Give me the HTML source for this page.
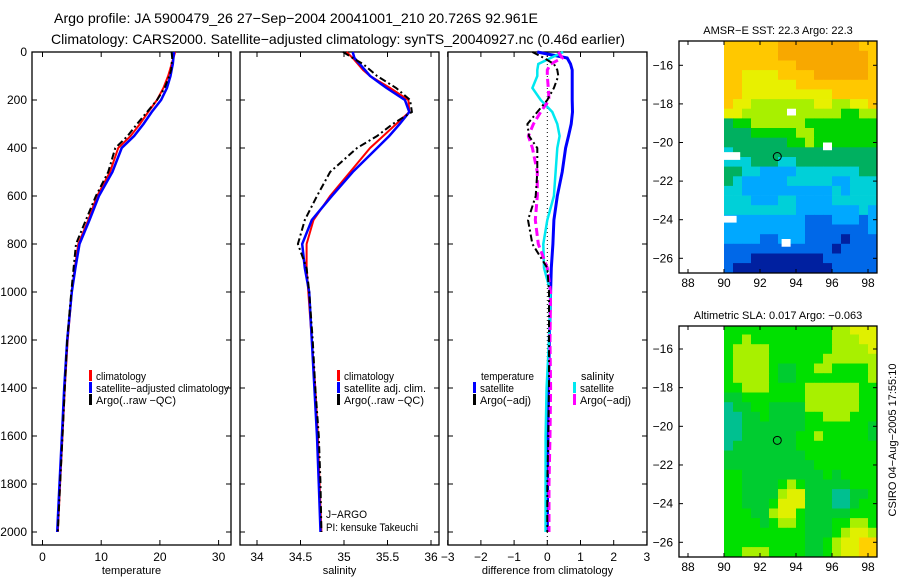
<!DOCTYPE html>
<html><head><meta charset="utf-8"><style>
body{margin:0;background:#fff}
svg{display:block;font-family:"Liberation Sans",sans-serif}
</style></head><body>
<svg id="fig" width="900" height="580" viewBox="0 0 900 580" xmlns="http://www.w3.org/2000/svg">
<text x="54" y="23" font-size="14" textLength="484" lengthAdjust="spacingAndGlyphs">Argo profile: JA 5900479_26 27−Sep−2004 20041001_210 20.726S 92.961E</text>
<text x="51" y="44" font-size="14" textLength="574" lengthAdjust="spacingAndGlyphs">Climatology: CARS2000. Satellite−adjusted climatology: synTS_20040927.nc (0.46d earlier)</text>
<g id="g"></g>
</svg>
<script>
// ---- profile data ----
const depths=[0,25,50,75,100,150,200,250,300,350,400,500,600,700,800,900,1000,1200,1400,1600,1800,2000];
const tempClim=[22.6,22.3,22.0,21.7,21.4,20.6,19.5,18.0,16.6,15.0,12.9,11.5,9.3,7.8,6.1,5.5,5.0,4.3,3.8,3.4,3.0,2.6];
const tempSat=[22.4,22.3,22.2,22.0,21.8,21.2,20.2,18.6,17.2,15.6,13.5,11.9,9.6,8.0,6.3,5.6,5.0,4.2,3.7,3.3,2.9,2.5];
const tempArgo=[22.0,22.1,22.0,21.9,21.6,20.8,19.5,17.8,16.1,14.5,12.4,11.2,9.1,7.4,5.7,5.3,4.9,4.2,3.8,3.4,3.0,2.6];
const salClim=[35.03,35.1,35.16,35.22,35.3,35.53,35.74,35.75,35.6,35.45,35.3,35.07,34.84,34.65,34.57,34.57,34.59,34.63,34.67,34.7,34.72,34.74];
const salSat=[35.1,35.12,35.18,35.24,35.3,35.49,35.7,35.75,35.64,35.52,35.38,35.1,34.86,34.63,34.52,34.55,34.6,34.63,34.66,34.69,34.71,34.73];
const salArgo=[34.99,35.1,35.22,35.3,35.38,35.6,35.76,35.78,35.56,35.38,35.15,34.84,34.69,34.55,34.47,34.57,34.6,34.64,34.67,34.71,34.73,34.74];
const dTempSat=[-0.3,0.6,0.7,0.75,0.75,0.75,0.75,0.76,0.72,0.64,0.55,0.45,0.3,0.2,0.17,0.12,0.1,0.06,0.04,0.02,0.01,0];
const dSalSat=[0.48,0.1,-0.27,-0.3,-0.3,-0.45,-0.2,0.15,0.3,0.37,0.3,0.25,0.2,0,-0.12,-0.1,0.1,0.05,-0.02,-0.05,-0.05,-0.05];
const dSalArgo=[0.33,0.45,0.1,0,0,0.03,0.05,-0.2,-0.42,-0.57,-0.45,-0.3,-0.3,-0.36,-0.27,0,0.1,0.08,0.1,0.08,0.05,0.05];
const dTempArgo=[-0.45,-0.1,0.2,0.3,0.33,0.2,0,-0.3,-0.6,-0.55,-0.3,-0.3,-0.35,-0.58,-0.45,0,0.05,0.05,0.05,0.03,0,0];
const depthTicks=[0,200,400,600,800,1000,1200,1400,1600,1800,2000];
const tTicks=[0,10,20,30], sTicks=[34,34.5,35,35.5,36], dTicks=[-3,-2,-1,0,1,2,3];
// ---- map data (0.5deg cells, rows from -14.75 southwards, cols from 90E) ----
const sstRows=["88888899999999988","88888899999999998","88888888999999998","88777788889999998","88777777888888888","88777777777788888","87766666667766778","77666666666665566","45566666655555555","44455555665555555","44444445565555555","34444444444444444","33344433444444444","44332222333333344","43222223333322333","33222222222232333","33322233222233333","33333333222222232","22222222211122212","22222222211111112","22221122211110111","11111111111101111","11100000000111111","10000000000011111"];
const slaRows=["55555555555566777","55655555555566677","56666555555566667","56666555555666666","56666544556655556","56666544555555556","55666555566666655","44555555566666655","34455444466666655","33445444455666555","33444444455555554","33444444556555554","34444444555555555","44444444455555555","44444444445555555","55444444444545555","55444456544444555","55444467744433445","55444577744433455","55544677544444555","55554566544455665","55555555544456776","55555555544567788","55666555544567788"];
const sstColors=["#0020a0","#0068e8","#00a8ff","#00d0d8","#00b060","#00d400","#a8f000","#e8f000","#ffc800","#f8a800"];
const slaColors=["#00b878","#00b878","#00b878","#00c090","#00cc30","#00e000","#a8f000","#e0f000","#ffd000","#ffd000"];
const sstGaps=[[93.5,94,-18.25,-18.6],[95.5,96,-20,-20.4],[90,90.9,-20.5,-20.9],[90,90.7,-23.8,-24.15],[93.2,93.7,-25,-25.4]];
const argoLon=92.961, argoLat=-20.726;
const lonTicks=[88,90,92,94,96,98], latTicks=[-16,-18,-20,-22,-24,-26];

const NS="http://www.w3.org/2000/svg", G=document.getElementById('g');
function el(t,a,p){const e=document.createElementNS(NS,t);for(const k in a)e.setAttribute(k,a[k]);(p||G).appendChild(e);return e;}
function txt(x,y,s,anchor,size,p,len){const a={x:x,y:y,'font-size':size||12,'text-anchor':anchor||'start'};if(len){a.textLength=len;a.lengthAdjust='spacingAndGlyphs';}const e=el('text',a,p);e.textContent=s;return e;}

const y0=52,yTop=52,yBot=545;
const Y=d=>y0+0.24*d;
const panels=[
 {x0:32,x1:231,f:v=>42.5+5.87*v,ticks:tTicks,label:'temperature',name:'temperature-panel'},
 {x0:240,x1:439,f:v=>257+87*(v-34),ticks:sTicks,label:'salinity',name:'salinity-panel'},
 {x0:448,x1:647,f:v=>547.3+33.2*v,ticks:dTicks,label:'difference from climatology',name:'difference-panel'}];
panels.forEach((P,i)=>{
 const g=el('g',{});
 
 
 const fr=el('rect',{x:P.x0,y:yTop,width:P.x1-P.x0,height:yBot-yTop,fill:'none',stroke:'#000','stroke-width':1.3},g);
 
 
 P.ticks.forEach(t=>{const x=P.f(t);
  el('line',{x1:x,x2:x,y1:yBot,y2:yBot-5,stroke:'#000'},g);
  el('line',{x1:x,x2:x,y1:yTop,y2:yTop+5,stroke:'#000'},g);
  const l=txt(x,561,String(t).replace('-','−'),'middle',12,g);
  
  
 });
 depthTicks.forEach(d=>{const y=Y(d);
  el('line',{x1:P.x0,x2:P.x0+5,y1:y,y2:y,stroke:'#000'},g);
  el('line',{x1:P.x1,x2:P.x1-5,y1:y,y2:y,stroke:'#000'},g);
  if(i==0){const l=txt(27,y+4,String(d),'end',12,g);
   
   }
 });
 const xl=txt((P.x0+P.x1)/2,574,P.label,'middle',11,g);
 
 
});
function line(P,vals,col,w,dash,name){
 const pts=vals.map((v,k)=>panels[P].f(v).toFixed(1)+','+Y(depths[k]).toFixed(1)).join(' ');
 const e=el('polyline',{points:pts,fill:'none',stroke:col,'stroke-width':w,'stroke-dasharray':dash||'none'});
 
 
}
el('line',{x1:547.3,x2:547.3,y1:yTop,y2:yBot,stroke:'#000','stroke-dasharray':'1 3'});
line(0,tempClim,'#f00',2,null,'temp-climatology-line');
line(0,tempSat,'#00f',2.5,null,'temp-satellite-line');
line(0,tempArgo,'#000',2,'7 3 2 3','temp-argo-line');
line(1,salClim,'#f00',2,null,'sal-climatology-line');
line(1,salSat,'#00f',2.5,null,'sal-satellite-line');
line(1,salArgo,'#000',2,'7 3 2 3','sal-argo-line');
line(2,dTempSat,'#00f',3,null,'dtemp-satellite-line');
line(2,dSalSat,'#00e8f0',2.5,null,'dsal-satellite-line');
line(2,dSalArgo,'#f0f',3,'8 4','dsal-argo-line');
line(2,dTempArgo,'#000',2,'7 3 2 3','dtemp-argo-line');
// legends
function leg(x,y,col,s,name,len){
 const g=el('g',{});
 
 
 if(col)el('rect',{x:x,y:y-11,width:3,height:11,fill:col},g);
 txt(x+7,y-1,s,'start',11,g,len);
}
leg(89,381,'#f00','climatology','legend-climatology',50);
leg(89,393,'#00f','satellite−adjusted climatology','legend-satellite-adjusted',133);
leg(89,405,'#000','Argo(..raw −QC)','legend-argo',80);
leg(337,381,'#f00','climatology','legend-sal-climatology',50);
leg(337,393,'#00f','satellite adj. clim.','legend-sal-satellite',82);
leg(337,405,'#000','Argo(..raw −QC)','legend-sal-argo',80);
leg(474,381,null,'temperature','legend-temperature-header',53);
leg(473,393,'#00f','satellite','legend-dtemp-satellite',34);
leg(473,405,'#000','Argo(−adj)','legend-dtemp-argo',51);
leg(574,381,null,'salinity','legend-salinity-header',33);
leg(573,393,'#00e8f0','satellite','legend-dsal-satellite',34);
leg(573,405,'#f0f','Argo(−adj)','legend-dsal-argo',51);
const j1=txt(326,518,'J−ARGO','start',11,null,41);
const j2=txt(326,531,'PI: kensuke Takeuchi','start',11,null,92);
// maps
function map(top,bot,latA,latB,rows,cols,gaps,title,name){
 const g=el('g',{});
 
 
 const X=l=>688+18*(l-88), Yl=la=>latA.y+(la-latA.v)*(latB.y-latA.y)/(latB.v-latA.v);
 const cp='clip'+name;
 const cpd=el('clipPath',{id:cp},g);el('rect',{x:679,y:top,width:198,height:bot-top},cpd);
 const cg=el('g',{'clip-path':'url(#'+cp+')'},g);
 rows.forEach((r,ri)=>{[...r].forEach((c,ci)=>{
  const la=-14.75-0.5*ri, lo=90+0.5*ci;
  const x=X(lo),y=Yl(la);
  const cell=el('rect',{x:x.toFixed(1),y:y.toFixed(1),width:9.4,height:(Yl(la-0.5)-y+0.4).toFixed(1),fill:cols[+c]},cg);
  
  
 });});
 gaps.forEach(q=>el('rect',{x:X(q[0]),y:Yl(q[2]),width:X(q[1])-X(q[0]),height:Yl(q[3])-Yl(q[2]),fill:'#fff'},cg));
 el('rect',{x:679,y:top,width:198,height:bot-top,fill:'none',stroke:'#000','stroke-width':1.3},g);
 lonTicks.forEach(l=>{const x=X(l);el('line',{x1:x,x2:x,y1:bot,y2:bot-4,stroke:'#000'},g);el('line',{x1:x,x2:x,y1:top,y2:top+4,stroke:'#000'},g);txt(x,bot+14,String(l),'middle',12,g);});
 latTicks.forEach(la=>{const y=Yl(la);el('line',{x1:679,x2:683,y1:y,y2:y,stroke:'#000'},g);el('line',{x1:877,x2:873,y1:y,y2:y,stroke:'#000'},g);txt(673,y+4,String(la).replace('-','−'),'end',12,g);});
 const m=el('circle',{cx:X(argoLon),cy:Yl(argoLat),r:4,fill:'none',stroke:'#000','stroke-width':1},g);
 
 
 const t=txt(778,top-7,title,'middle',11,g);
 
 
}
map(41,273,{v:-16,y:65.3},{v:-26,y:258.3},sstRows,sstColors,sstGaps,'AMSR−E SST: 22.3 Argo: 22.3','sst-map');
map(326,557,{v:-16,y:349},{v:-26,y:542.3},slaRows,slaColors,[],'Altimetric SLA: 0.017 Argo: −0.063','sla-map');
const cs=txt(0,0,'CSIRO 04−Aug−2005 17:55:10','middle',11);
cs.setAttribute('transform','translate(896,440) rotate(-90)');


</script>
</body></html>
